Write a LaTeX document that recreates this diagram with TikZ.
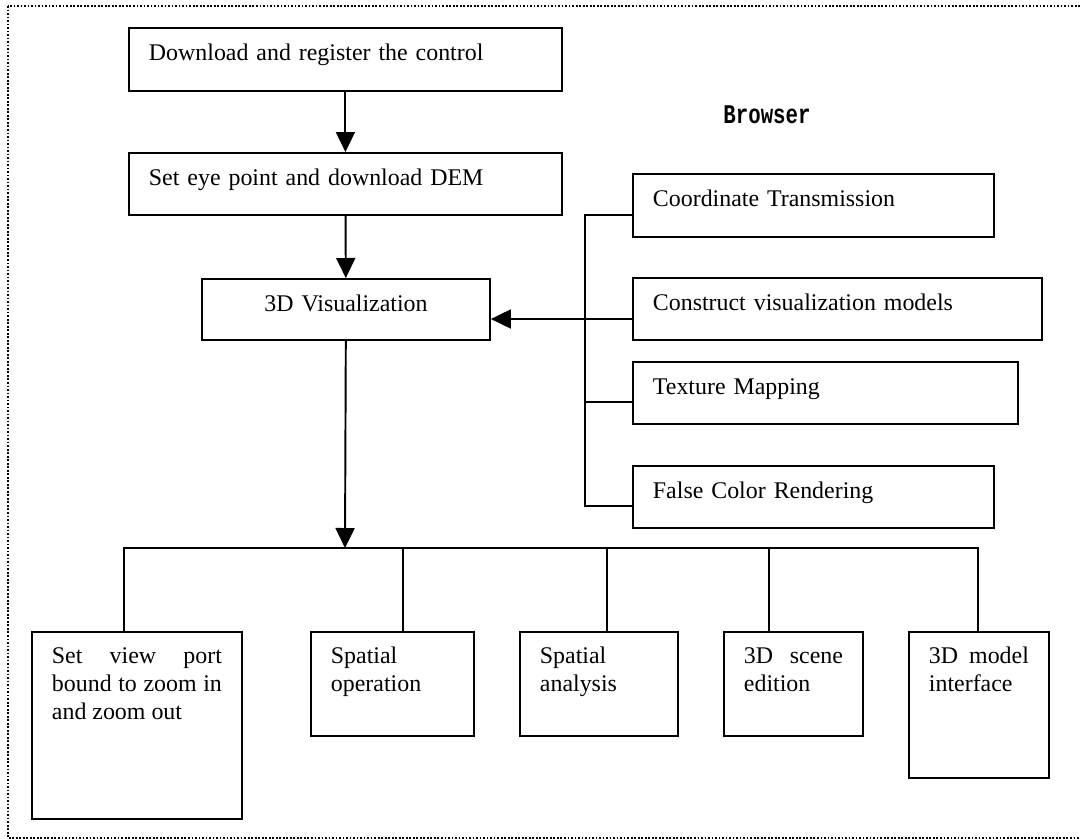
\documentclass[tikz,border=0pt]{standalone}
\usepackage{fontspec}
\setmainfont{Liberation Serif}
\newfontfamily\brwfont{Liberation Mono}
\usetikzlibrary{arrows.meta}

\tikzset{
  flowbox/.style={draw, line width=1.1pt, rectangle, anchor=north west,
    inner xsep=0.4cm, inner ysep=0pt, text height=0.66cm, align=left,
    font=\fontsize{13.6pt}{15.9pt}\selectfont},
  arr/.style={-{Triangle[width=0.38cm,length=0.4cm]}},
}

\begin{document}
\begin{tikzpicture}[x=0.02cm, y=-0.02cm, line width=1.1pt]

\useasboundingbox (0,0) rectangle (1080,839);
\draw [line width=0.9pt, dash pattern=on 1pt off 1pt] (8,6) rectangle (1100,838);

\node [flowbox, text width=7.86cm, text depth=0.60cm] (dl) at (128,27) {Download and register the control};
\node [flowbox, text width=7.86cm, text depth=0.58cm] (eye) at (128,152) {Set eye point and download DEM};
\node [flowbox, text width=4.96cm, text depth=0.56cm, align=center] (vis) at (201,278) {3D Visualization};
\draw[arr] (dl) -- (eye);
\draw[arr] (eye) -- (vis);

\node [font=\brwfont\bfseries\fontsize{11.8pt}{14pt}\selectfont, anchor=base] (brw) at (767,123) {\scalebox{1}[1.3]{Browser}};

\node [flowbox, text width=6.42cm, text depth=0.60cm] (ct) at (632,173) {Coordinate Transmission};
\node [flowbox, text width=7.38cm, text depth=0.58cm] (cv) at (632,277) {Construct visualization models};
\node [flowbox, text width=6.90cm, text depth=0.58cm] (tm) at (632,361) {Texture Mapping};
\node [flowbox, text width=6.42cm, text depth=0.58cm] (fc) at (632,465) {False Color Rendering};

\coordinate (t1) at (585,215);
\coordinate (t2) at (585,319);
\coordinate (t3) at (585,402);
\coordinate (t4) at (585,506);
\draw (t1 -| ct.west) -- (t1) -- (t4) -- (t4 -| fc.west);
\draw (t3) -- (t3 -| tm.west);
\draw[arr] (t2 -| cv.west) -- (t2 -| vis.east);

\node [flowbox, align=justify, text height=0.64cm, text width=3.40cm, text depth=3.10cm] (vp) at (31,631) {Set view port\linebreak bound to zoom in\linebreak and zoom out};
\node [flowbox, text height=0.64cm, text width=2.46cm, text depth=1.44cm] (so) at (310,631) {Spatial\\operation};
\node [flowbox, text height=0.64cm, text width=2.36cm, text depth=1.44cm] (sa) at (519,631) {Spatial\\analysis};
\node [flowbox, align=justify, text height=0.64cm, text width=1.98cm, text depth=1.44cm] (se) at (723,631) {3D scene\linebreak edition};
\node [flowbox, align=justify, text height=0.64cm, text width=2.00cm, text depth=2.28cm] (mi) at (908,631) {3D model\linebreak interface};

\coordinate (hub) at (345,548);
\coordinate (b1) at (124,548);
\coordinate (b2) at (403,548);
\coordinate (b3) at (607,548);
\coordinate (b4) at (769,548);
\coordinate (b5) at (978,548);
\draw[arr] (vis) -- (hub);
\draw (b1 |- vp.north) -- (b1) -- (b5) -- (b5 |- mi.north);
\draw (b2) -- (b2 |- so.north);
\draw (b3) -- (b3 |- sa.north);
\draw (b4) -- (b4 |- se.north);

\end{tikzpicture}
\end{document}
